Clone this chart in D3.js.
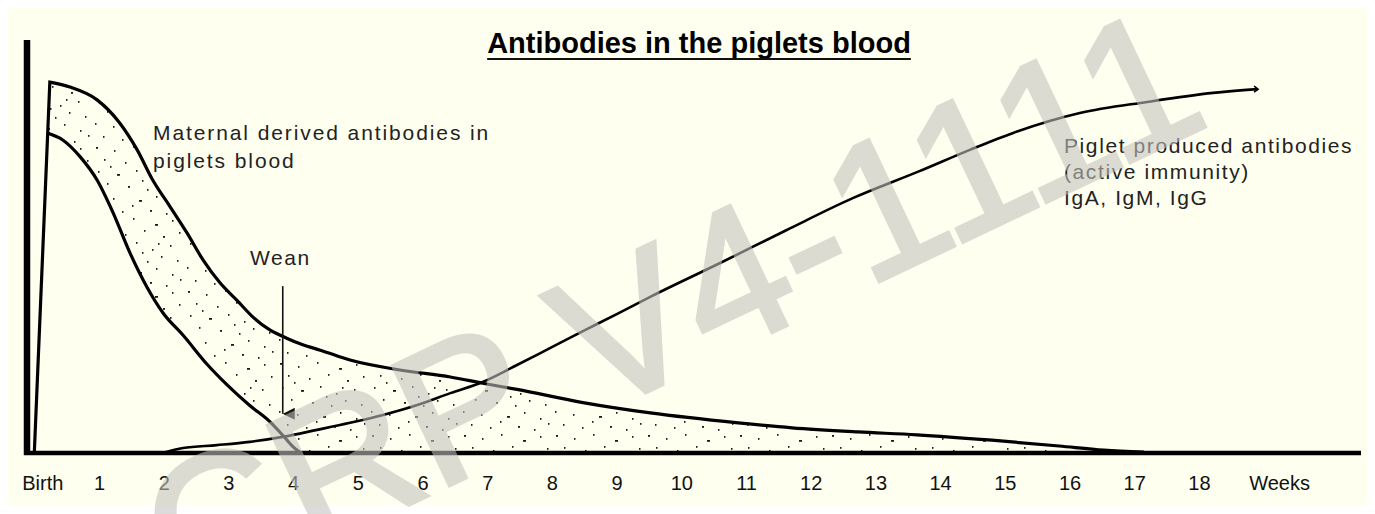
<!DOCTYPE html>
<html>
<head>
<meta charset="utf-8">
<script src="https://cdn.jsdelivr.net/npm/d3@7"></script>
<style>
  html, body { margin: 0; padding: 0; background: #ffffff; }
  svg { display: block; }
  text { font-family: "Liberation Sans", Arial, sans-serif; }
</style>
</head>
<body>
<div id="chart"></div>
<script>
// x = weeks after birth, y = relative antibody level (0-100)
const weekTicks = d3.range(0, 19);
const tickLabels = ["Birth", "1", "2", "3", "4", "5", "6", "7", "8", "9", "10",
  "11", "12", "13", "14", "15", "16", "17", "18"];

const maternalUpper = [
  [0, 0], [0.24, 89.8], [0.55, 88.6], [0.97, 85.5], [1.32, 79.9], [1.59, 73.4],
  [1.83, 66.1], [2.10, 59.6], [2.36, 53.3], [2.61, 46.7], [2.87, 41.2], [3.13, 37.0],
  [3.38, 32.9], [3.64, 29.8], [3.90, 27.8], [4.15, 26.2], [4.42, 24.9], [4.88, 22.5],
  [5.65, 20.1], [6.43, 18.4], [6.93, 16.9], [7.46, 15.4], [8.48, 12.2], [9.52, 9.7],
  [10.88, 7.3], [11.71, 6.1], [12.73, 5.1], [13.64, 4.4], [14.80, 3.1], [15.84, 1.7],
  [16.53, 0.7], [17.15, 0.2]
];

const maternalLower = [
  [0.2, 77.5], [0.44, 75.8], [0.71, 71.7], [0.97, 66.1], [1.22, 58.1], [1.48, 48.4],
  [1.74, 40.2], [1.99, 33.9], [2.30, 28.5], [2.67, 21.5], [2.98, 16.5], [3.33, 11.5],
  [3.64, 7.6], [3.84, 4.3], [4.0, 1.5], [4.12, 0]
];

const pigletProduced = [
  [1.98, 0], [2.30, 1.2], [2.82, 1.9], [3.33, 2.7], [3.84, 3.9], [4.37, 5.6],
  [4.88, 7.3], [5.39, 9.2], [5.92, 11.6], [6.43, 14.5], [6.93, 17.2], [7.46, 21.3],
  [7.97, 25.4], [8.48, 29.5], [9.01, 33.7], [9.52, 37.8], [10.60, 46.0], [11.63, 54.0],
  [12.65, 61.7], [13.69, 68.3], [14.46, 73.4], [15.13, 77.5], [16.16, 82.3],
  [17.20, 85.0], [18.22, 87.2], [18.90, 88.1]
];

const weanWeek = 3.84;
const weanArrow = [40.4, 9.5];   // arrow from / to level

// dot texture for the maternal band (x, y, length)
const stippleDots = [
  [4, 3, 2], [22, 6, 1.5], [41, 2, 1.5], [63, 8, 3], [80, 4, 1.5], [12, 15, 1.5],
  [33, 18, 1.5], [52, 14, 1.5], [71, 20, 2], [87, 16, 1.5], [6, 27, 1.5], [25, 30, 3],
  [44, 26, 1.5], [60, 33, 1.5], [78, 29, 1.5], [15, 39, 1.5], [36, 42, 2], [55, 45, 1.5],
  [69, 40, 1.5], [85, 44, 1.5], [3, 51, 1.5], [21, 54, 1.5], [47, 56, 3], [64, 52, 1.5],
  [80, 58, 1.5], [11, 64, 1.5], [30, 67, 1.5], [40, 61, 1.5], [58, 66, 2], [74, 69, 1.5],
  [88, 63, 1.5], [50, 36, 1.5], [18, 22, 1.5], [66, 27, 1.5]
];

const W = 1375, H = 514;

const svg = d3.select("#chart").append("svg")
  .attr("width", W)
  .attr("height", H);

svg.append("rect")
  .attr("x", 8).attr("y", 8)
  .attr("width", W - 16).attr("height", H - 16)
  .attr("fill", "#fffff0");

const defs = svg.append("defs");
const pat = defs.append("pattern")
  .attr("id", "stipple")
  .attr("patternUnits", "userSpaceOnUse")
  .attr("width", 92).attr("height", 72);
pat.selectAll("rect")
  .data(stippleDots)
  .enter().append("rect")
  .attr("x", d => d[0]).attr("y", d => d[1])
  .attr("width", d => d[2]).attr("height", 1.8)
  .attr("fill", "#1a1a1a");

defs.append("marker")
  .attr("id", "weanHead")
  .attr("viewBox", "0 0 12 12")
  .attr("refX", 6).attr("refY", 12)
  .attr("markerWidth", 12).attr("markerHeight", 12)
  .attr("markerUnits", "userSpaceOnUse")
  .attr("orient", "auto-start-reverse")
  .append("path")
  .attr("d", "M0,0 L12,0 L6,12 Z")
  .attr("fill", "#111");

const x = d3.scaleLinear().domain([0, 19]).range([34.3, 1263.6]);
const y = d3.scaleLinear().domain([0, 100]).range([453, 40]);

const smooth = d3.line()
  .x(d => x(d[0]))
  .y(d => y(d[1]))
  .curve(d3.curveMonotoneX);

// outer maternal curve: straight rise to the peak, then smooth decay
const rise = maternalUpper.slice(0, 2);
const decay = maternalUpper.slice(1);
const upperPath = `M${x(rise[0][0])},${y(rise[0][1])}` + smooth(decay).replace(/^M/, "L");
const lastU = maternalUpper[maternalUpper.length - 1];

const g = svg.append("g");

// stippled band: area under outer curve minus area under inner curve
g.append("path")
  .attr("d", upperPath + `L${x(lastU[0])},${y(0)}Z`)
  .attr("fill", "url(#stipple)");

const lastL = maternalLower[maternalLower.length - 1];
g.append("path")
  .attr("d", `M${x(0)},${y(0)}L${x(maternalLower[0][0])},${y(maternalLower[0][1])}` +
    smooth(maternalLower).replace(/^M/, "L") + `L${x(lastL[0])},${y(0)}Z`)
  .attr("fill", "#fffff0");

// axes lines
g.append("line")
  .attr("x1", 27).attr("x2", 27)
  .attr("y1", y(100)).attr("y2", y(0) + 2)
  .attr("stroke", "#000").attr("stroke-width", 6.5);

g.append("line")
  .attr("x1", 24).attr("x2", 1361)
  .attr("y1", y(0)).attr("y2", y(0))
  .attr("stroke", "#000").attr("stroke-width", 4.5);

// curves
g.append("path")
  .attr("d", upperPath)
  .attr("fill", "none")
  .attr("stroke", "#000")
  .attr("stroke-width", 3.2)
  .attr("stroke-linejoin", "miter");

g.append("path")
  .attr("d", smooth(maternalLower))
  .attr("fill", "none")
  .attr("stroke", "#000")
  .attr("stroke-width", 3.2);

g.append("path")
  .attr("d", smooth(pigletProduced))
  .attr("fill", "none")
  .attr("stroke", "#000")
  .attr("stroke-width", 2.6);

// small end mark of the piglet curve
const pEnd = pigletProduced[pigletProduced.length - 1];
g.append("path")
  .attr("d", `M${x(pEnd[0]) - 3},${y(pEnd[1]) - 3} L${x(pEnd[0]) + 1},${y(pEnd[1])} L${x(pEnd[0]) - 3},${y(pEnd[1]) + 3}`)
  .attr("fill", "none")
  .attr("stroke", "#000")
  .attr("stroke-width", 1.6);

// wean arrow
g.append("line")
  .attr("x1", x(weanWeek)).attr("x2", x(weanWeek))
  .attr("y1", y(weanArrow[0])).attr("y2", y(weanArrow[1]))
  .attr("stroke", "#111")
  .attr("stroke-width", 1.6)
  .attr("marker-end", "url(#weanHead)");

// x axis labels
const xAxis = d3.axisBottom(x)
  .tickValues(weekTicks)
  .tickFormat((d, i) => tickLabels[i])
  .tickSize(0);

const ax = g.append("g")
  .attr("transform", `translate(0,${y(0)})`)
  .call(xAxis);
ax.select(".domain").remove();
ax.selectAll("text")
  .attr("y", 37).attr("dy", 0)
  .attr("dx", (d, i) => i === 0 ? 8 : 0)
  .style("font-family", "'Liberation Sans', Arial, sans-serif")
  .style("font-size", "20px")
  .style("fill", "#111");

g.append("text")
  .attr("x", x(19) + 16).attr("y", y(0) + 37)
  .attr("text-anchor", "middle")
  .style("font-size", "20px")
  .style("fill", "#111")
  .text("Weeks");

// title
const title = svg.append("text")
  .attr("x", 699).attr("y", 53)
  .attr("text-anchor", "middle")
  .style("font-size", "29px")
  .style("font-weight", "bold")
  .style("fill", "#000")
  .text("Antibodies in the piglets blood");
const tw = title.node().getComputedTextLength();
svg.append("line")
  .attr("x1", 699 - tw / 2).attr("x2", 699 + tw / 2)
  .attr("y1", 59).attr("y2", 59)
  .attr("stroke", "#111").attr("stroke-width", 2.2);

// annotations
function block(x0, y0, lines, lh, ls) {
  const t = svg.append("text")
    .attr("x", x0).attr("y", y0)
    .style("font-size", "21px")
    .style("letter-spacing", ls + "px")
    .style("fill", "#222");
  lines.forEach((s, i) => {
    t.append("tspan").attr("x", x0).attr("y", y0 + i * lh).text(s);
  });
}
block(153, 140, ["Maternal derived antibodies in", "piglets blood"], 28, 1.9);
block(250, 265, ["Wean"], 26, 1.6);
block(1064, 153, ["Piglet produced antibodies", "(active immunity)", "IgA, IgM, IgG"], 26, 1.6);

// watermark
svg.append("text")
  .attr("transform", "translate(185,611) rotate(-25.4)")
  .style("font-size", "192px")
  .style("fill", "#c2c2be")
  .style("stroke", "#c2c2be")
  .style("stroke-width", 4)
  .style("opacity", 0.58)
  .text("CRP V4-1111");
</script>
</body>
</html>
